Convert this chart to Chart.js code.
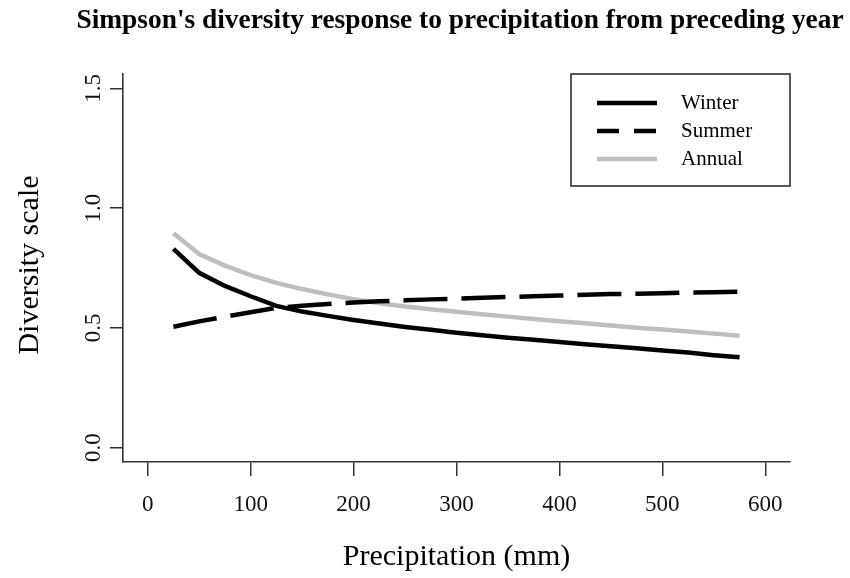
<!DOCTYPE html>
<html>
<head>
<meta charset="utf-8">
<script src="https://cdn.jsdelivr.net/npm/chart.js@4.4.1/dist/chart.umd.min.js"></script>
<style>
  html, body { margin: 0; padding: 0; background: #fff; }
  #chart { display: block; }
</style>
</head>
<body>
<canvas id="chart" width="850" height="578"></canvas>
<script>
// Precipitation values (mm) where the curves were evaluated
const precip = [25, 50, 75, 100, 125, 150, 175, 200, 225, 250, 275, 300, 325, 350, 375, 400, 425, 450, 475, 500, 525, 550, 575];

// Simpson's diversity response per season
const winter = [0.830, 0.730, 0.675, 0.632, 0.592, 0.568, 0.550, 0.533, 0.518, 0.504, 0.492, 0.480, 0.469, 0.459, 0.450, 0.441, 0.432, 0.423, 0.415, 0.406, 0.397, 0.386, 0.377];
const summer = [0.505, 0.527, 0.547, 0.565, 0.584, 0.592, 0.600, 0.606, 0.611, 0.615, 0.619, 0.622, 0.626, 0.629, 0.632, 0.635, 0.638, 0.641, 0.643, 0.645, 0.647, 0.649, 0.651];
const annual = [0.895, 0.808, 0.760, 0.720, 0.688, 0.662, 0.640, 0.620, 0.603, 0.589, 0.578, 0.567, 0.557, 0.547, 0.537, 0.528, 0.519, 0.510, 0.501, 0.493, 0.485, 0.476, 0.467];

const seriesNames = ["Winter", "Summer", "Annual"];
const xTicks = [0, 100, 200, 300, 400, 500, 600];
const yTicks = [0, 0.5, 1.0, 1.5];

const titleText = "Simpson's diversity response to precipitation from preceding year";
const xTitle = "Precipitation (mm)";
const yTitle = "Diversity scale";

const serif = "'Liberation Serif', 'Times New Roman', serif";
Chart.defaults.font.family = serif;

const toPoints = vals => precip.map((x, i) => ({ x: x, y: vals[i] }));

// draws the title, axis titles and the R-style legend box
const decorations = {
    id: "decorations",
    afterDraw(chart) {
        const ctx = chart.ctx;
        const area = chart.chartArea;
        ctx.save();
        ctx.fillStyle = "#000";

        // main title
        ctx.font = "bold 27.4px " + serif;
        ctx.textAlign = "center";
        ctx.textBaseline = "alphabetic";
        ctx.fillText(titleText, 460, 28);

        // axis titles
        ctx.font = "30px " + serif;
        ctx.textBaseline = "middle";
        ctx.fillText(xTitle, (area.left + area.right) / 2, 557);
        ctx.save();
        ctx.translate(30, 265);
        ctx.rotate(-Math.PI / 2);
        ctx.fillText(yTitle, 0, 0);
        ctx.restore();

        // legend
        const boxL = area.right - 219, boxT = area.top, boxW = 219, boxH = 112;
        ctx.strokeStyle = "#222";
        ctx.lineWidth = 1.5;
        ctx.strokeRect(boxL, boxT, boxW, boxH);
        ctx.font = "21px " + serif;
        ctx.textAlign = "left";
        chart.data.datasets.forEach((ds, i) => {
            const y = boxT + 29 + i * 28;
            ctx.beginPath();
            ctx.strokeStyle = ds.borderColor;
            ctx.lineWidth = ds.borderWidth;
            ctx.setLineDash(ds.borderDash && ds.borderDash.length ? [22, 15] : []);
            ctx.moveTo(boxL + 26, y);
            ctx.lineTo(boxL + 86, y);
            ctx.stroke();
            ctx.setLineDash([]);
            ctx.fillStyle = "#000";
            ctx.fillText(ds.label, boxL + 110, y);
        });
        ctx.restore();
    }
};

new Chart(document.getElementById("chart"), {
    type: "line",
    data: {
        datasets: [
            { label: seriesNames[0], data: toPoints(winter), borderColor: "#000", borderWidth: 4.5, borderDash: [] },
            { label: seriesNames[1], data: toPoints(summer), borderColor: "#000", borderWidth: 4.5, borderDash: [44, 14] },
            { label: seriesNames[2], data: toPoints(annual), borderColor: "#bebebe", borderWidth: 4.5, borderDash: [] }
        ]
    },
    options: {
        responsive: false,
        animation: false,
        layout: { padding: { top: 74, right: 60, left: 0, bottom: 0 } },
        elements: { point: { radius: 0 }, line: { tension: 0, fill: false } },
        plugins: { legend: { display: false }, tooltip: { enabled: false }, title: { display: false } },
        scales: {
            x: {
                type: "linear",
                min: -24,
                max: 624,
                afterBuildTicks: scale => { scale.ticks = xTicks.map(v => ({ value: v })); },
                afterFit: scale => { scale.height = 116; },
                grid: { drawOnChartArea: false, drawTicks: true, tickLength: 14, color: "#333", lineWidth: 1.5 },
                border: { display: true, color: "#333", width: 1.6 },
                ticks: { font: { size: 23 }, color: "#111", padding: 15, maxRotation: 0, autoSkip: false }
            },
            y: {
                min: -0.06,
                max: 1.56,
                afterBuildTicks: scale => { scale.ticks = yTicks.map(v => ({ value: v })); },
                afterFit: scale => { scale.width = 123; },
                grid: { drawOnChartArea: false, drawTicks: true, tickLength: 13, color: "#333", lineWidth: 1.5 },
                border: { display: true, color: "#333", width: 1.6 },
                ticks: {
                    font: { size: 23 }, color: "#111", padding: 2,
                    minRotation: 90, maxRotation: 90, crossAlign: "center", autoSkip: false,
                    callback: v => v.toFixed(1)
                }
            }
        }
    },
    plugins: [decorations]
});
</script>
</body>
</html>
